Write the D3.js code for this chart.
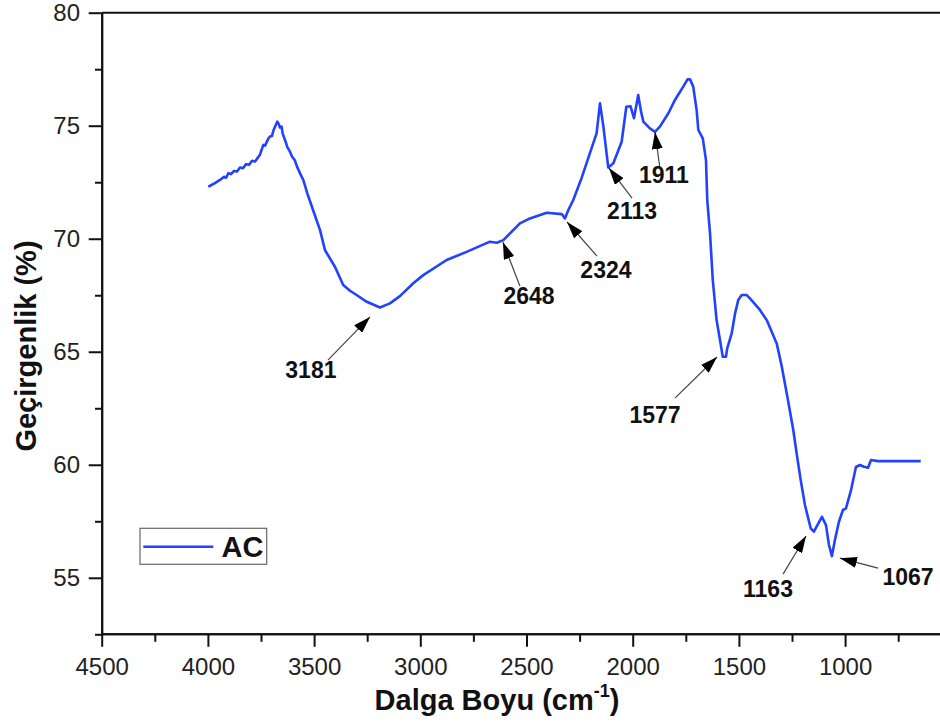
<!DOCTYPE html>
<html>
<head>
<meta charset="utf-8">
<script src="https://cdn.jsdelivr.net/npm/d3@7"></script>
<style>
  html, body { margin: 0; padding: 0; background: #fff; }
  svg { display: block; }
</style>
</head>
<body>
<svg id="chart" width="940" height="726"></svg>
<script>
// FTIR spectrum of sample AC: wavenumber (cm^-1) and transmittance (%)
const wavenumber = [
  3998, 3967, 3943, 3924, 3914, 3904, 3891, 3877, 3863, 3849, 3835, 3820, 3806, 3792, 3778, 3764,
  3755, 3739, 3731, 3716, 3708, 3698, 3692, 3684, 3673, 3665, 3661, 3653, 3648, 3637, 3626, 3613,
  3604, 3590, 3581, 3566, 3551, 3532, 3505, 3472, 3449, 3402, 3363, 3331, 3300, 3252, 3190, 3143,
  3096, 3033, 2986, 2876, 2782, 2672, 2640, 2609, 2531, 2484, 2405, 2334, 2319, 2303, 2280, 2240,
  2186, 2170, 2154, 2138, 2115, 2091, 2052, 2030, 2010, 1994, 1974, 1962, 1950, 1919, 1895, 1872,
  1832, 1801, 1762, 1742, 1730, 1715, 1699, 1691, 1670, 1655, 1649, 1636, 1623, 1605, 1589, 1576,
  1561, 1555, 1534, 1518, 1503, 1487, 1463, 1448, 1401, 1369, 1322, 1298, 1269, 1244, 1227, 1209,
  1189, 1162, 1147, 1126, 1109, 1090, 1076, 1062, 1048, 1029, 1010, 996, 972, 949, 930, 911,
  892, 878, 845, 644
];
const transmittance = [
  72.30, 72.46, 72.60, 72.74, 72.70, 72.90, 72.86, 73.00, 72.97, 73.15, 73.12, 73.30, 73.27, 73.45, 73.42, 73.60,
  73.72, 74.15, 74.12, 74.42, 74.52, 74.55, 74.78, 74.95, 75.18, 75.05, 74.92, 74.96, 74.65, 74.37, 74.05, 73.84,
  73.64, 73.46, 73.20, 72.89, 72.60, 72.01, 71.27, 70.38, 69.50, 68.76, 67.95, 67.70, 67.51, 67.21, 66.96, 67.14,
  67.46, 68.03, 68.39, 69.06, 69.42, 69.87, 69.82, 69.94, 70.68, 70.90, 71.15, 71.09, 70.90, 71.27, 71.71, 72.70,
  74.22, 74.66, 75.99, 74.96, 73.15, 73.34, 74.29, 75.84, 75.86, 75.33, 76.36, 75.69, 75.18, 74.88, 74.73, 74.96,
  75.55, 76.14, 76.73, 77.05, 77.05, 76.73, 75.69, 74.81, 74.44, 73.48, 71.71, 70.25, 68.17, 66.40, 65.52, 64.78,
  64.78, 65.15, 65.81, 66.70, 67.29, 67.51, 67.51, 67.36, 66.85, 66.40, 65.37, 64.34, 62.86, 61.54, 60.43, 59.32,
  58.22, 57.19, 57.04, 57.41, 57.70, 57.33, 56.45, 55.96, 56.67, 57.48, 58.00, 58.07, 58.88, 59.90, 59.99, 59.91,
  59.87, 60.21, 60.16, 60.16
];

// Axis ticks
const xMajorTicks = [4500, 4000, 3500, 3000, 2500, 2000, 1500, 1000];
const xMinorTicks = [4250, 3750, 3250, 2750, 2250, 1750, 1250, 750];
const yMajorTicks = [55, 60, 65, 70, 75, 80];
const yMinorTicks = [52.5, 57.5, 62.5, 67.5, 72.5, 77.5];

// Peak annotations: label, arrow tip, arrow tail and label anchor (wavenumber, transmittance)
const peakLabels = ["3181", "2648", "2324", "2113", "1911", "1577", "1163", "1067"];
const peakTip    = [[3237, 66.54], [2611, 69.85], [2309, 70.74], [2112, 73.13], [1895, 74.72], [1603, 64.77], [1184, 56.85], [1024, 55.87]];
const peakTail   = [[3435, 64.63], [2531, 67.91], [2168, 69.23], [2003, 71.80], [1872, 73.13], [1801, 62.95], [1292, 55.16], [845, 55.43]];
const peakText   = [[3515, 63.84], [2488, 67.11], [2126, 68.26], [2003, 70.87], [1853, 72.46], [1895, 61.85], [1363, 54.15], [704, 54.68]];

const seriesName = "AC";
const xTitle = "Dalga Boyu (cm";
const yTitle = "Geçirgenlik (%)";

const svg = d3.select("#chart");
const W = 940, H = 726;
const plotLeft = 101.7, plotTop = 12.7, plotBottom = 634.3;

const x = d3.scaleLinear().domain([4500, 500]).range([plotLeft, plotLeft + 4000 * 0.2124]);
const y = d3.scaleLinear().domain([52.5, 80]).range([plotBottom, plotTop]);

const font = "'Liberation Sans', Arial, Helvetica, sans-serif";
const lineColor = "#2342ff";

svg.append("rect").attr("width", W).attr("height", H).attr("fill", "#fff");

// Top frame line
svg.append("line")
  .attr("x1", plotLeft).attr("x2", W).attr("y1", plotTop).attr("y2", plotTop)
  .attr("stroke", "#111").attr("stroke-width", 2);

// X axis (major with labels, minor without)
const gx = svg.append("g").attr("transform", `translate(0,${plotBottom})`);
gx.call(d3.axisBottom(x).tickValues(xMajorTicks).tickFormat(d3.format("d"))
  .tickSize(12.5).tickSizeOuter(0).tickPadding(11.5));
gx.append("g").call(d3.axisBottom(x).tickValues(xMinorTicks).tickFormat("")
  .tickSize(7.5).tickSizeOuter(0));
gx.selectAll(".domain").attr("d", `M${plotLeft},0H${W}`);

// Y axis
const gy = svg.append("g").attr("transform", `translate(${plotLeft},0)`);
gy.call(d3.axisLeft(y).tickValues(yMajorTicks).tickFormat(d3.format("d"))
  .tickSize(13).tickSizeOuter(0).tickPadding(8.7));
gy.append("g").call(d3.axisLeft(y).tickValues(yMinorTicks).tickFormat("")
  .tickSize(6.7).tickSizeOuter(0));

svg.selectAll(".domain").attr("stroke", "#111").attr("stroke-width", 2);
svg.selectAll(".tick line").attr("stroke", "#111").attr("stroke-width", 2);
svg.selectAll(".tick text")
  .attr("font-family", font).attr("font-size", 24).attr("fill", "#222");

// Spectrum line
const pts = wavenumber.map((w, i) => [w, transmittance[i]]);
svg.append("path")
  .datum(pts)
  .attr("fill", "none")
  .attr("stroke", lineColor)
  .attr("stroke-width", 2.6)
  .attr("stroke-linejoin", "round")
  .attr("d", d3.line().x(d => x(d[0])).y(d => y(d[1])));

// Arrowhead marker
svg.append("defs").append("marker")
  .attr("id", "arrow")
  .attr("viewBox", "0 0 17 11")
  .attr("refX", 17).attr("refY", 5.5)
  .attr("markerUnits", "userSpaceOnUse")
  .attr("markerWidth", 17).attr("markerHeight", 11)
  .attr("orient", "auto")
  .append("path").attr("d", "M0,0L17,5.5L0,11Z").attr("fill", "#000");

const notes = svg.append("g");
peakLabels.forEach((lab, i) => {
  notes.append("line")
    .attr("x1", x(peakTail[i][0])).attr("y1", y(peakTail[i][1]))
    .attr("x2", x(peakTip[i][0])).attr("y2", y(peakTip[i][1]))
    .attr("stroke", "#444").attr("stroke-width", 1.2)
    .attr("marker-end", "url(#arrow)");
  notes.append("text")
    .attr("x", x(peakText[i][0])).attr("y", y(peakText[i][1]))
    .attr("text-anchor", "middle")
    .attr("font-family", font).attr("font-weight", "bold").attr("font-size", 23)
    .attr("fill", "#111")
    .text(lab);
});

// Legend
const lg = svg.append("g");
lg.append("rect").attr("x", 140).attr("y", 528.3).attr("width", 126.7).attr("height", 36)
  .attr("fill", "#fff").attr("stroke", "#666").attr("stroke-width", 1.2);
lg.append("line").attr("x1", 143.3).attr("x2", 213.3).attr("y1", 546.7).attr("y2", 546.7)
  .attr("stroke", lineColor).attr("stroke-width", 2.6);
lg.append("text").attr("x", 221.5).attr("y", 557.3)
  .attr("font-family", font).attr("font-weight", "bold").attr("font-size", 29)
  .attr("fill", "#111").text(seriesName);

// Axis titles
const xt = svg.append("text")
  .attr("x", 497).attr("y", 710)
  .attr("text-anchor", "middle")
  .attr("font-family", font).attr("font-weight", "bold").attr("font-size", 29)
  .attr("fill", "#111");
xt.append("tspan").text(xTitle);
xt.append("tspan").attr("font-size", 18).attr("dy", -13).text("-1");
xt.append("tspan").attr("dy", 13).text(")");

svg.append("text")
  .attr("transform", "translate(36,346) rotate(-90)")
  .attr("text-anchor", "middle")
  .attr("font-family", font).attr("font-weight", "bold").attr("font-size", 29)
  .attr("fill", "#111")
  .text(yTitle);
</script>
</body>
</html>
